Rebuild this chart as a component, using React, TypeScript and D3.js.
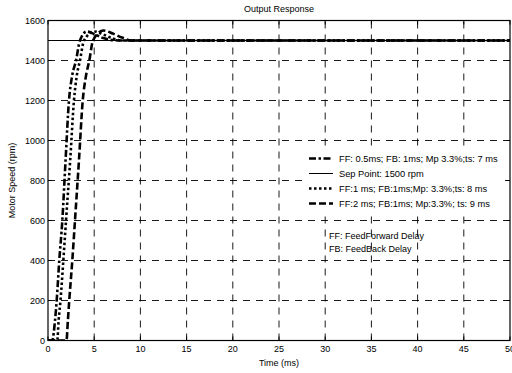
import React, { useEffect } from "react";
import * as d3 from "d3";

// step responses (time in ms, speed in rpm)
const tFF05 = [0, 0.45, 0.76, 0.94, 1.22, 1.55, 1.9, 2.27, 2.6, 3.03, 3.46, 4.2, 5, 6, 7, 8, 50];
const yFF05 = [0, 0, 100, 200, 400, 600, 900, 1200, 1320, 1400, 1500, 1545, 1532, 1512, 1502, 1500, 1500];
const tFF1 = [0, 1.0, 1.15, 1.35, 1.66, 1.95, 2.4, 2.81, 3.1, 3.46, 3.9, 5, 6, 7, 8, 50];
const yFF1 = [0, 0, 100, 200, 400, 600, 900, 1200, 1320, 1400, 1500, 1545, 1530, 1510, 1500, 1500];
const tFF2 = [0, 2.0, 2.15, 2.3, 2.63, 2.92, 3.35, 3.76, 4.1, 4.47, 4.87, 6.0, 7, 8, 9, 50];
const yFF2 = [0, 0, 100, 200, 400, 600, 900, 1200, 1320, 1400, 1500, 1550, 1535, 1515, 1500, 1500];
const setPoint = 1500;

const xTicks = [0, 5, 10, 15, 20, 25, 30, 35, 40, 45, 50];
const yTicks = [0, 200, 400, 600, 800, 1000, 1200, 1400, 1600];

const legendLabels = [
  "FF: 0.5ms; FB: 1ms; Mp 3.3%;ts: 7 ms",
  "Sep Point: 1500 rpm",
  "FF:1 ms; FB:1ms;Mp: 3.3%;ts: 8 ms",
  "FF:2 ms; FB:1ms; Mp:3.3%; ts: 9 ms",
];
const noteLines = ["FF: FeedForward Delay", "FB: FeedBack Delay"];

const W = 512;
const H = 373;
const m = { left: 48, right: 2, top: 20.5, bottom: 32.5 };
const font = "'Liberation Sans', Arial, sans-serif";

const styles = [
  { w: 2.6, dash: "7,2.5,2.5,2.5" },
  { w: 1, dash: null },
  { w: 2.6, dash: "2.5,2.5" },
  { w: 2.6, dash: "7,3" },
];

export default function App() {
  useEffect(() => {
    document.body.style.margin = "0";
  }, []);

  const x = d3.scaleLinear().domain([0, 50]).range([m.left, W - m.right]);
  const y = d3.scaleLinear().domain([0, 1600]).range([H - m.bottom, m.top]);
  const line = d3
    .line<[number, number]>()
    .x(d => x(d[0]))
    .y(d => y(d[1]))
    .curve(d3.curveMonotoneX);

  const series = [
    { d: tFF05.map((t, i) => [t, yFF05[i]] as [number, number]), s: styles[0] },
    { d: tFF1.map((t, i) => [t, yFF1[i]] as [number, number]), s: styles[2] },
    { d: tFF2.map((t, i) => [t, yFF2[i]] as [number, number]), s: styles[3] },
  ];

  const x0 = x(0), x1 = x(50), y0 = y(0), y1 = y(1600);
  const legX = 305, legY = 146, legW = 200, legH = 65;

  return (
    <svg width={W} height={H} style={{ display: "block", background: "#fff" }} fontFamily={font}>
      <defs>
        <clipPath id="plot">
          <rect x={x0} y={y1} width={x1 - x0} height={y0 - y1} />
        </clipPath>
      </defs>
      {/* grid */}
      <g stroke="#000" strokeWidth={0.9} strokeDasharray="7,6">
        {xTicks.slice(1, -1).map(t => (
          <line key={"gx" + t} x1={x(t)} x2={x(t)} y1={y0} y2={y1} />
        ))}
        {yTicks.slice(1, -1).map(t => (
          <line key={"gy" + t} x1={x0} x2={x1} y1={y(t)} y2={y(t)} />
        ))}
      </g>
      {/* note text */}
      <g fontSize={9} fill="#000">
        {noteLines.map((s, i) => (
          <text key={s} x={329} y={239 + i * 13}>{s}</text>
        ))}
      </g>
      {/* set point */}
      <line x1={x0} x2={x1} y1={y(setPoint)} y2={y(setPoint)} stroke="#000" strokeWidth={1} />
      {/* responses */}
      <g clipPath="url(#plot)" fill="none" stroke="#000">
        {series.map((sr, i) => (
          <path
            key={i}
            d={line(sr.d) || ""}
            strokeWidth={sr.s.w}
            strokeDasharray={sr.s.dash || undefined}
          />
        ))}
      </g>
      {/* legend */}
      <rect x={legX} y={legY} width={legW} height={legH} fill="#fff" />
      {legendLabels.map((s, i) => {
        const ly = 158.5 + i * 15;
        return (
          <g key={s}>
            <line
              x1={309}
              x2={333}
              y1={ly}
              y2={ly}
              stroke="#000"
              strokeWidth={styles[i].w}
              strokeDasharray={styles[i].dash || undefined}
            />
            <text x={339} y={ly} dy="0.35em" fontSize={9.3}>{s}</text>
          </g>
        );
      })}
      {/* box + ticks */}
      <rect x={x0} y={y1} width={x1 - x0} height={y0 - y1} fill="none" stroke="#000" strokeWidth={1.2} />
      <g stroke="#000" strokeWidth={1}>
        {xTicks.map(t => (
          <g key={"tx" + t}>
            <line x1={x(t)} x2={x(t)} y1={y0} y2={y0 - 4} />
            <line x1={x(t)} x2={x(t)} y1={y1} y2={y1 + 4} />
          </g>
        ))}
        {yTicks.map(t => (
          <g key={"ty" + t}>
            <line x1={x0} x2={x0 + 4} y1={y(t)} y2={y(t)} />
            <line x1={x1} x2={x1 - 4} y1={y(t)} y2={y(t)} />
          </g>
        ))}
      </g>
      {/* tick labels */}
      <g fontSize={9} fill="#000">
        {xTicks.map(t => (
          <text key={"lx" + t} x={x(t)} y={y0 + 11} textAnchor="middle">{t}</text>
        ))}
        {yTicks.map(t => (
          <text key={"ly" + t} x={x0 - 3} y={y(t)} dy="0.35em" textAnchor="end">{t}</text>
        ))}
      </g>
      <text x={(x0 + x1) / 2} y={12} fontSize={9} textAnchor="middle">Output Response</text>
      <text x={(x0 + x1) / 2} y={366} fontSize={9} textAnchor="middle">Time (ms)</text>
      <text transform={`translate(15,${(y0 + y1) / 2}) rotate(-90)`} fontSize={9} textAnchor="middle">
        Motor Speed (rpm)
      </text>
    </svg>
  );
}
